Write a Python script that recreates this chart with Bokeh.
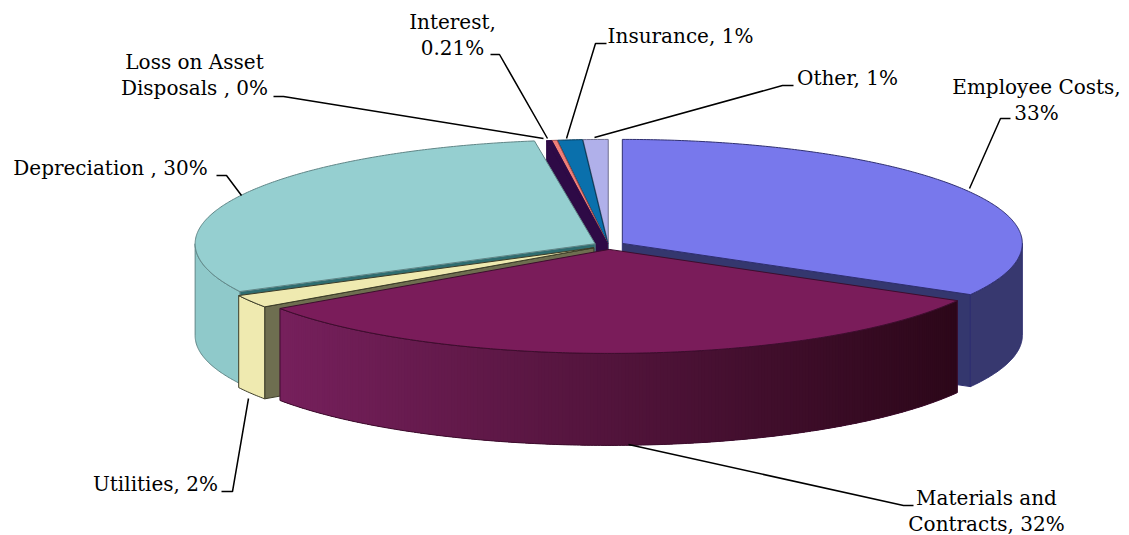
import math
from bokeh.embed import file_html
from bokeh.models import ColumnDataSource
from bokeh.plotting import figure
from bokeh.resources import INLINE
from bokeh.core.properties import value

# Expense categories, clockwise from twelve o'clock
categories = ["Employee Costs", "Materials and Contracts", "Utilities", "Depreciation",
              "Loss on Asset Disposals", "Interest", "Insurance", "Other"]
percentages = [33, 32, 2, 30, 0.2, 0.21, 1, 1]

# Text of each data label, one entry per line
label_lines = [["Employee Costs,", "33%"], ["Materials and", "Contracts, 32%"], ["Utilities, 2%"],
               ["Depreciation , 30%"], ["Loss on Asset", "Disposals , 0%"], ["Interest,", "0.21%"],
               ["Insurance, 1%"], ["Other, 1%"]]

# Styling per slice
top_colors = ["#7878ec", "#7a1c5a", "#efeab0", "#95cfd0", "#2e0a46", "#f07f78", "#0a70ac", "#b0b0ea"]
wall_left = ["#37386f", "#76205c", "#efeab0", "#8fc9ca", "#2e0a46", "#f07f78", "#0a70ac", "#b0b0ea"]
wall_right = ["#37386f", "#2c0719", "#efeab0", "#8fc9ca", "#2e0a46", "#f07f78", "#0a70ac", "#b0b0ea"]
face_colors = ["#34376e", "#3a0c2a", "#6e6e50", "#2f6d70", "#2e0a46", "#2e0a46", "#063a5a", "#5f5f80"]
edge_colors = ["#2f2f70", "#3d0d2d", "#3c3c28", "#5f8586", "#2e0a46", "#a05050", "#063a5a", "#70708f"]
explode = [16, 15, 17, 15, 8, 8, 8, 8]

# Projected pie geometry
CX, CY, RX, RY, DEPTH = 608, 245, 400, 104, 92
WIDTH, HEIGHT = 1129, 535

total = sum(percentages)
bounds = [0.0]
for v in percentages:
    bounds.append(bounds[-1] + v / total * 360)


def mix(c1, c2, t):
    a = [int(c1[i:i + 2], 16) for i in (1, 3, 5)]
    b = [int(c2[i:i + 2], 16) for i in (1, 3, 5)]
    return "#%02x%02x%02x" % tuple(round(x + (y - x) * t) for x, y in zip(a, b))


polys = dict(xs=[], ys=[], fill=[], fa=[], line=[], la=[], lw=[])


def add(xs, ys, fill, line, lw=1.0, fa=1.0, la=1.0):
    polys["xs"].append(xs)
    polys["ys"].append(ys)
    polys["fill"].append(fill)
    polys["fa"].append(fa)
    polys["line"].append(line)
    polys["la"].append(la)
    polys["lw"].append(lw)


def apex_of(i):
    mid = math.radians((bounds[i] + bounds[i + 1]) / 2)
    return CX + explode[i] * math.sin(mid), CY - explode[i] * RY / RX * math.cos(mid)


def rim(i, a0, a1, step=0.5):
    ax, ay = apex_of(i)
    n = max(2, int(abs(a1 - a0) / step) + 1)
    angles = [math.radians(a0 + (a1 - a0) * k / (n - 1)) for k in range(n)]
    return [ax + RX * math.sin(t) for t in angles], [ay - RY * math.cos(t) for t in angles]


def draw_slice(i):
    a0, a1 = bounds[i], bounds[i + 1]
    ax, ay = apex_of(i)
    xr, yr = rim(i, a0, a1)

    # cut faces that turn towards the viewer
    if 180 <= a0 <= 360:
        add([ax, xr[0], xr[0], ax], [ay, yr[0], yr[0] + DEPTH, ay + DEPTH], face_colors[i], edge_colors[i])
    if 0 <= a1 <= 180:
        add([ax, xr[-1], xr[-1], ax], [ay, yr[-1], yr[-1] + DEPTH, ay + DEPTH], face_colors[i], edge_colors[i])

    # outer wall on the near half of the rim: flat colour or overlapping shaded strips
    w0, w1 = max(a0, 90), min(a1, 270)
    if w0 < w1:
        xw, yw = rim(i, w0, w1)
        base_x = xw + xw[::-1]
        base_y = yw + [y + DEPTH for y in yw[::-1]]
        if wall_left[i] == wall_right[i]:
            add(base_x, base_y, wall_left[i], edge_colors[i])
        else:
            span = max(xw) - min(xw)
            order = sorted(range(len(xw)), key=lambda k: xw[k])
            for pos in range(0, len(order) - 1):
                chunk = order[pos:pos + 4]
                t = (xw[chunk[0]] - min(xw)) / span
                c = mix(wall_left[i], wall_right[i], t)
                cx_ = [xw[k] for k in chunk]
                cy_ = [yw[k] for k in chunk]
                add(cx_ + cx_[::-1], cy_ + [y + DEPTH for y in cy_[::-1]], c, c, 0.0, la=0.0)
            add(base_x, base_y, "#000000", edge_colors[i], 1.0, fa=0.0)

    # top surface
    add([ax] + xr, [ay] + yr, top_colors[i], edge_colors[i])


p = figure(width=WIDTH, height=HEIGHT, x_range=(0, WIDTH), y_range=(HEIGHT, 0),
           output_backend="svg", toolbar_location=None, min_border=0)
p.axis.visible = False
p.grid.visible = False
p.outline_line_color = None
p.background_fill_color = "#ffffff"
p.border_fill_color = "#ffffff"

# Far slices first, near ones last
for idx in [7, 6, 5, 4, 3, 0, 2, 1]:
    draw_slice(idx)

p.patches("xs", "ys", source=ColumnDataSource(polys), fill_color="fill", fill_alpha="fa",
          line_color="line", line_alpha="la", line_width="lw")

# Leader lines, each running from its label to its slice
leaders = [
    ([1010, 1000, 969], [118, 118, 188]),
    ([913, 903, 628], [505, 505, 444]),
    ([221, 232, 248], [491, 491, 398]),
    ([216, 226, 241], [175, 175, 195]),
    ([273, 283, 543], [96, 96, 138]),
    ([490, 499, 547], [54, 54, 138]),
    ([606, 595, 566], [43, 43, 138]),
    ([793, 782, 594], [85, 85, 137]),
]
for lx, ly in leaders:
    p.line(lx, ly, line_color="#000000", line_width=1.5)

# Data labels, centred on each anchor with one row per line
anchors = [(1036, 86), (986, 497), (155, 483), (110, 167), (194, 61), (452, 21), (680, 35), (847, 77)]
LINE_GAP = 26
tx, ty, tt = [], [], []
for (ax, ay), lines in zip(anchors, label_lines):
    for n, line in enumerate(lines):
        tx.append(ax)
        ty.append(ay + n * LINE_GAP)
        tt.append(line)
p.text(tx, ty, text=tt, text_align="center", text_baseline="middle", text_color="#000000",
       text_font=value("DejaVu Serif"), text_font_size="20px")

open("out.html", "w").write(file_html(p, INLINE))
